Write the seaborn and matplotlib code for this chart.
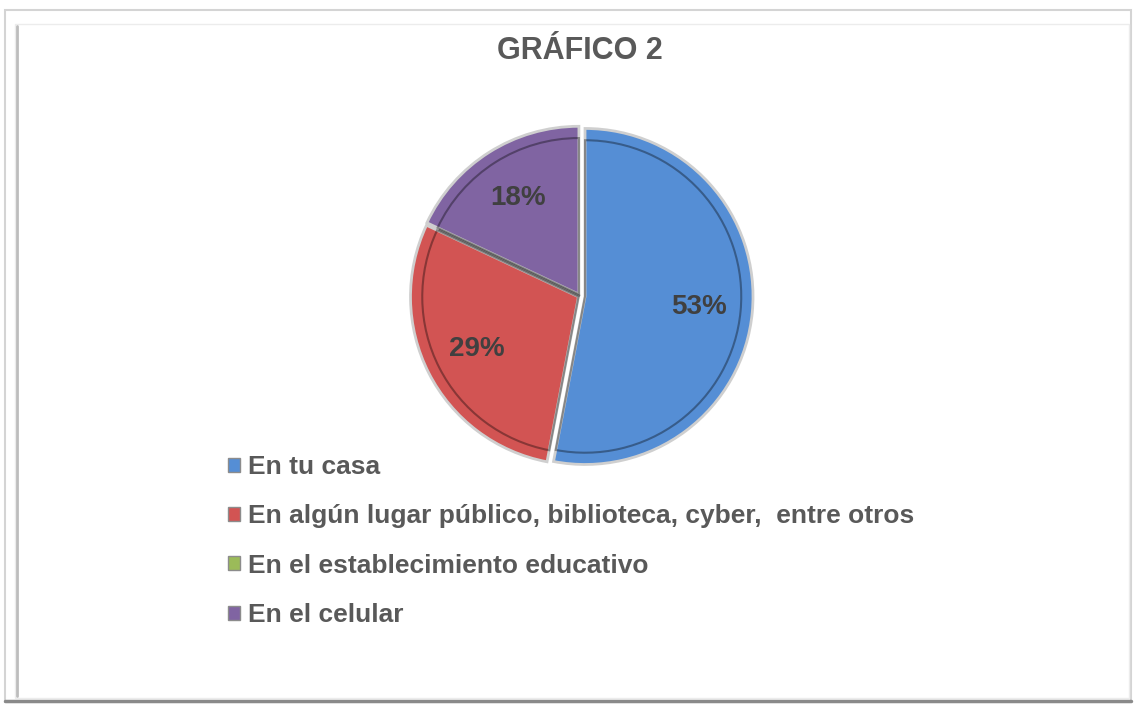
import matplotlib
matplotlib.use("Agg")
import matplotlib.pyplot as plt
import seaborn as sns
from matplotlib.patches import Rectangle
from matplotlib.lines import Line2D

categories = ["En tu casa",
              "En algún lugar público, biblioteca, cyber,  entre otros",
              "En el establecimiento educativo",
              "En el celular"]
values = [53, 29, 0, 18]
colors = ["#558ED5", "#D25453", "#9BBB59", "#8064A2"]
title = "GRÁFICO 2"

sns.set_theme(style="white")
plt.rcParams['font.family'] = ['Liberation Sans', 'DejaVu Sans']

W, H = 1136, 707
fig = plt.figure(figsize=(W / 100, H / 100), dpi=100)
fig.patch.set_facecolor("white")

# frame
fig.patches.append(Rectangle((5 / W, 1 - 702 / H), 1126 / W, 692 / H, transform=fig.transFigure,
                             fill=False, edgecolor="#d4d4d4", linewidth=1.5))
fig.patches.append(Rectangle((15 / W, 1 - 698 / H), 1114 / W, 674 / H, transform=fig.transFigure,
                             fill=False, edgecolor="#ececec", linewidth=1.0))
fig.lines.append(Line2D([5 / W, 1131 / W], [1 - 701 / H, 1 - 701 / H], transform=fig.transFigure,
                        color="#8a8a8a", linewidth=2.5))
fig.lines.append(Line2D([17 / W, 17 / W], [1 - 696 / H, 1 - 26 / H], transform=fig.transFigure,
                        color="#bdbdbd", linewidth=2.0))

cx, cy, r = 580, 296, 168
ax = fig.add_axes([(cx - r) / W, 1 - (cy + r) / H, 2 * r / W, 2 * r / H])

def fmt(p):
    return "" if p < 0.5 else f"{p:.0f}%"

explode = [0.03, 0.01, 0, 0.012]
wedges, texts, autotexts = ax.pie(values, colors=colors, startangle=90, counterclock=False,
                                  explode=explode, autopct=fmt, pctdistance=0.68,
                                  wedgeprops=dict(edgecolor="#cfcfcf", linewidth=2.0),
                                  textprops=dict(fontsize=20, fontweight="bold", color="#404040"))
# inner bevel lines
ax.pie(values, colors=["none"] * 4, startangle=90, counterclock=False,
       explode=explode, radius=0.93,
       wedgeprops=dict(edgecolor=(0, 0, 0, 0.35), linewidth=1.5, fill=False))
ax.set_xlim(-1.0, 1.0)
ax.set_ylim(-1.0, 1.0)
ax.set_aspect("equal")
ax.axis("off")

fig.text(580 / W, 1 - 51 / H, title, ha="center", va="center", fontsize=22,
         fontweight="bold", color="#595959")

handles = [Rectangle((0, 0), 1, 1, facecolor=c, edgecolor="#8c8c8c", linewidth=1.0) for c in colors]
leg = fig.legend(handles, categories, loc="upper left", bbox_to_anchor=(228 / W, 1 - 455 / H),
                 frameon=False, handlelength=0.45, handleheight=0.45, handletextpad=0.3,
                 labelspacing=0.96, borderaxespad=0, borderpad=0,
                 prop=dict(size=19, weight="bold"))
for t in leg.get_texts():
    t.set_color("#595959")

fig.savefig("out.png", dpi=100, facecolor="white")
